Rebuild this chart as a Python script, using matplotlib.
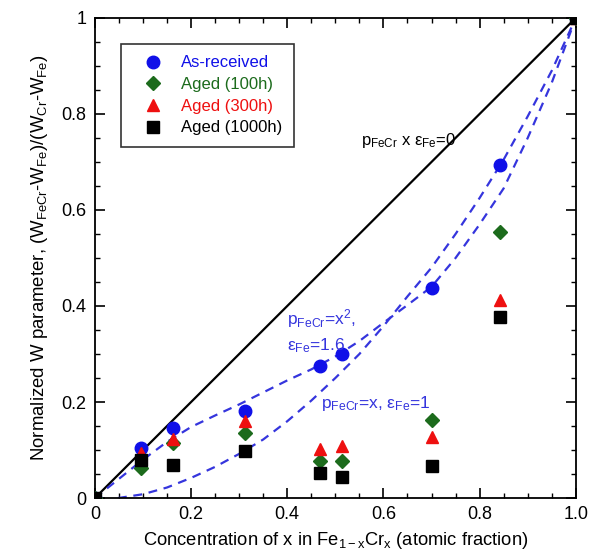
import matplotlib
matplotlib.use("Agg")
import matplotlib.pyplot as plt
from matplotlib.ticker import MultipleLocator

plt.rcParams['font.family'] = ['Liberation Sans', 'DejaVu Sans']
plt.rcParams['mathtext.fontset'] = 'custom'
plt.rcParams['mathtext.rm'] = 'Liberation Sans'
plt.rcParams['mathtext.it'] = 'Liberation Sans'
plt.rcParams['mathtext.default'] = 'regular'

# measured data
x_conc = [0.0, 0.095, 0.163, 0.312, 0.468, 0.513, 0.700, 0.842, 1.0]
w_asrec = [0.0, 0.104, 0.145, 0.182, 0.275, 0.301, 0.438, 0.694, 1.0]
w_100h = [0.0, 0.062, 0.114, 0.135, 0.077, 0.077, 0.163, 0.555, 1.0]
w_300h = [0.0, 0.094, 0.122, 0.161, 0.103, 0.108, 0.128, 0.412, 1.0]
w_1000h = [0.0, 0.080, 0.069, 0.099, 0.052, 0.043, 0.066, 0.378, 1.0]

# model curves
lin_x = [0.0, 1.0]
lin_y = [0.0, 1.0]
px_x = [0.048, 0.10, 0.15, 0.20, 0.25, 0.30, 0.35, 0.40, 0.45, 0.50,
        0.55, 0.60, 0.65, 0.70, 0.75, 0.80, 0.85, 0.90, 0.95, 1.0]
px_y = [0.0, 0.008, 0.022, 0.042, 0.065, 0.092, 0.122, 0.16, 0.203, 0.25,
        0.30, 0.358, 0.42, 0.48, 0.55, 0.625, 0.705, 0.795, 0.89, 1.0]
px2_x = [0.0, 0.05, 0.10, 0.15, 0.20, 0.25, 0.30, 0.35, 0.40, 0.45, 0.50,
         0.55, 0.60, 0.65, 0.70, 0.75, 0.80, 0.85, 0.90, 0.95, 1.0]
px2_y = [0.0, 0.04, 0.08, 0.117, 0.148, 0.172, 0.195, 0.22, 0.245, 0.268, 0.295,
         0.327, 0.365, 0.402, 0.44, 0.50, 0.57, 0.645, 0.75, 0.865, 1.0]

fig = plt.figure(figsize=(5.93, 5.59), dpi=100)
ax = fig.add_axes([0.160, 0.109, 0.811, 0.859])

blue = '#1010e8'
green = '#1c6b1c'
red = '#ee1010'
dash_col = '#3535dd'

ax.plot(lin_x, lin_y, color='black', lw=1.6, zorder=2)
ax.plot(px_x, px_y, color=dash_col, lw=1.6, dashes=(4, 3), zorder=2)
ax.plot(px2_x, px2_y, color=dash_col, lw=1.6, dashes=(4, 3), zorder=2)

ax.plot(x_conc, w_asrec, 'o', color=blue, ms=9, ls='none', label='As-received', zorder=3)
ax.plot(x_conc, w_100h, 'D', color=green, ms=7.5, ls='none', label='Aged (100h)', zorder=3)
ax.plot(x_conc, w_300h, '^', color=red, ms=9, ls='none', label='Aged (300h)', zorder=3)
ax.plot(x_conc, w_1000h, 's', color='black', ms=8, ls='none', label='Aged (1000h)', zorder=4)

ax.set_xlim(0, 1)
ax.set_ylim(0, 1)
ax.xaxis.set_minor_locator(MultipleLocator(0.05))
ax.yaxis.set_minor_locator(MultipleLocator(0.05))
ax.set_xticks([0, 0.2, 0.4, 0.6, 0.8, 1.0])
ax.set_xticklabels(['0', '0.2', '0.4', '0.6', '0.8', '1.0'])
ax.set_yticks([0, 0.2, 0.4, 0.6, 0.8, 1.0])
ax.set_yticklabels(['0', '0.2', '0.4', '0.6', '0.8', '1'])
ax.tick_params(which='both', direction='in', top=True, right=True, labelsize=13)
ax.tick_params(which='major', length=7, width=1.2, pad=6)
ax.tick_params(which='minor', length=3.5, width=1)
for s in ax.spines.values():
    s.set_linewidth(1.3)

ax.set_xlabel('Concentration of x in Fe$_{1-x}$Cr$_{x}$ (atomic fraction)', fontsize=13.2, labelpad=5)
ax.set_ylabel('Normalized W parameter, (W$_{FeCr}$-W$_{Fe}$)/(W$_{Cr}$-W$_{Fe}$)', fontsize=13.4, labelpad=8)

ax.text(0.553, 0.735, 'p$_{FeCr}$ x $\\epsilon_{Fe}$=0', fontsize=12, color='black')
ax.text(0.399, 0.362, 'p$_{FeCr}$=x$^{2}$,', fontsize=12.5, color=dash_col)
ax.text(0.399, 0.308, '$\\epsilon_{Fe}$=1.6', fontsize=12.5, color=dash_col)
ax.text(0.471, 0.188, 'p$_{FeCr}$=x, $\\epsilon_{Fe}$=1', fontsize=12.5, color=dash_col)

leg = ax.legend(loc='upper left', bbox_to_anchor=(0.054, 0.946), borderaxespad=0,
                fontsize=12, frameon=True, fancybox=False, edgecolor='black',
                handletextpad=0.5, borderpad=0.7, labelspacing=0.4, handlelength=2.4)
leg.get_frame().set_linewidth(1.2)
for txt, c in zip(leg.get_texts(), [blue, green, red, 'black']):
    txt.set_color(c)

fig.savefig('out.png', dpi=100)
